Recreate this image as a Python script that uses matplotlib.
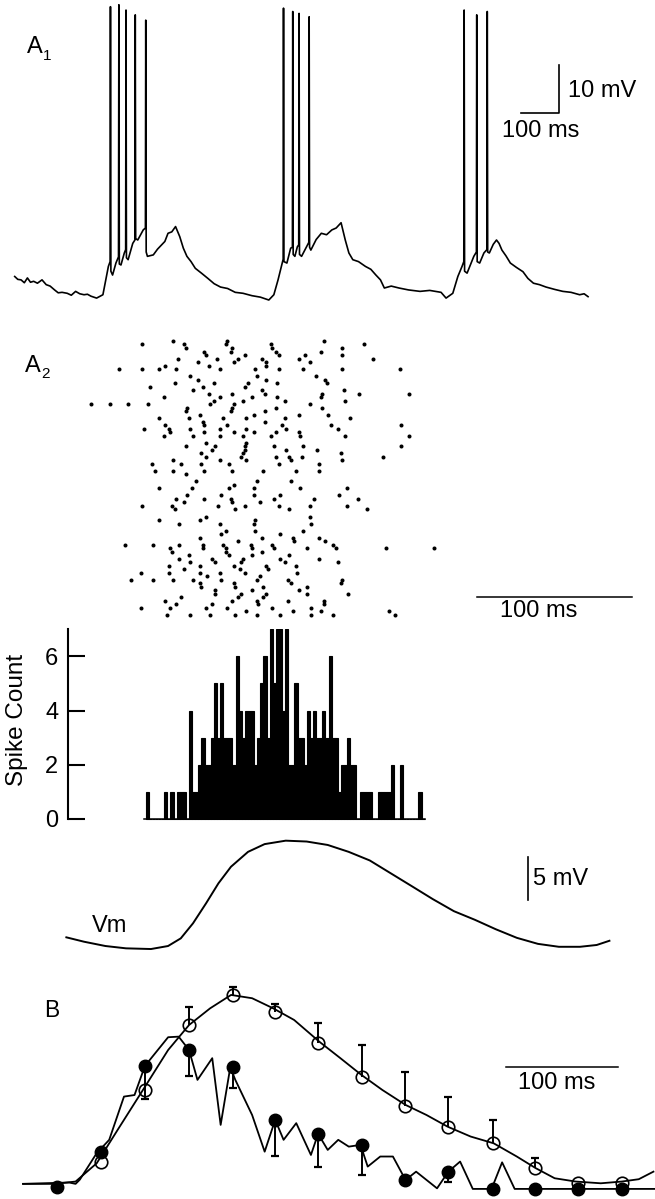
import numpy as np
import matplotlib
matplotlib.use('Agg')
import matplotlib.pyplot as plt

plt.rcParams['font.family'] = ['Liberation Sans', 'DejaVu Sans']

W, H = 655, 1199

# ---------------- A1: intracellular trace (ms, mV relative to trough) ----------------
a1_time_ms = [7.0, 15.0, 23.4, 32.0, 40.0, 48.0, 56.1, 66.0, 77.9, 88.8, 99.0, 110.6, 120.0,
              130.0, 143.4, 154.0, 165.2, 176.0, 187.0, 196.0, 205.0,
              219.7, 236.1, 243.7, 250.3, 254.8, 255.7, 256.8, 261.2, 269.9, 276.6, 277.6,
              278.7, 283.0, 291.7, 295.2, 296.1, 297.2, 301.6, 313.6, 319.2, 320.1, 321.2,
              326.6, 340.8, 346.5, 347.4, 348.5, 351.7, 367.0, 378.0, 388.8, 397.0, 405.2, 415.0,
              424.8, 435.7, 445.0, 454.3, 465.0, 476.1, 492.0, 508.8, 525.0, 541.6, 560.0, 579.8,
              600.0, 623.4, 645.0, 667.0, 680.1, 691.0, 699.8, 704.3,
              705.2, 706.3, 714.0, 723.8, 728.3, 729.2, 730.3, 734.7, 741.2, 744.7, 745.6,
              746.7, 752.1, 765.2, 770.9, 771.8, 772.9, 776.2, 790.0, 803.4, 817.0, 830.7, 842.0,
              854.7, 865.6, 875.0, 885.2, 900.0, 918.0, 932.0, 945.2, 957.0, 967.1, 985.0,
              1005.2, 1030.0, 1059.8, 1085.0, 1114.4, 1127.4, 1144.9, 1158.0,
              1168.9, 1173.5, 1174.4, 1175.5, 1182.0, 1199.5, 1206.2, 1207.1, 1208.2, 1214.7,
              1225.7, 1233.5, 1234.4, 1235.5, 1239.8, 1250.0, 1258.4, 1265.0, 1272.5, 1283.0,
              1294.4, 1310.0, 1327.1, 1340.0, 1354.4, 1370.0, 1387.1, 1410.0, 1430.7, 1452.0,
              1474.4, 1486.0, 1496.2]
a1_vm_mV = [4.9, 4.3, 4.2, 3.6, 4.6, 3.7, 3.9, 3.5, 4.2, 3.2, 2.9, 2.1, 1.5,
            1.6, 1.4, 1.0, 1.8, 1.3, 1.1, 1.2, 0.8,
            0.4, 1.1, 4.2, 7.0, 8.0, 61.1, 6.0, 5.2, 7.7, 9.0, 61.5,
            7.5, 7.3, 9.8, 10.5, 60.4, 8.8, 8.4, 11.8, 12.5, 59.4, 12.8,
            12.5, 14.6, 15.0, 58.3, 10.0, 9.1, 9.4, 10.6, 11.5, 12.2, 13.9, 14.2,
            15.3, 13.2, 10.8, 9.1, 8.0, 6.6, 5.6, 4.5, 3.4, 2.7, 2.4, 1.6,
            1.4, 0.9, 0.6, 0.0, 1.1, 4.2, 7.0, 8.5,
            60.8, 8.0, 7.7, 10.8, 11.0, 60.1, 9.5, 9.1, 11.1, 11.5, 59.7,
            9.5, 9.1, 11.1, 12.0, 59.0, 11.0, 10.4, 12.6, 13.9, 13.6, 14.6, 15.0,
            16.1, 12.5, 9.8, 8.4, 8.0, 7.0, 6.4, 5.2, 4.2, 2.5, 2.9,
            2.5, 2.1, 1.8, 2.0, 1.6, 0.4, 1.4, 4.9,
            7.0, 8.0, 60.4, 6.0, 5.6, 9.1, 10.0, 59.4, 8.0, 7.7,
            9.8, 10.5, 60.1, 10.0, 9.8, 11.6, 12.5, 11.8, 10.4, 9.2,
            7.7, 6.8, 5.9, 4.5, 3.5, 3.2, 2.7, 2.2, 1.8, 1.6,
            1.1, 1.3, 0.7]
a1_bar_ms = 100
a1_bar_mV = 10

# ---------------- A2: raster, spike times (ms) per trial ----------------
raster_spike_ms = [
    [55, 90, 152], [35, 62, 89, 118, 178], [63, 93, 119, 164], [75, 92, 121, 150],
    [76, 101, 123, 140, 164], [58, 83, 97, 112, 136, 184], [71, 94, 115, 143], [50, 78, 115],
    [20, 35, 46, 57, 85, 108, 123, 139, 164, 201], [], [66, 109, 147], [71, 115, 153],
    [56, 81, 103, 122, 154], [40, 74, 101], [68, 112, 165], [78, 93, 114, 151, 175, 207],
    [49, 85, 106, 122, 150], [81, 100, 127, 166], [2, 14, 26, 39, 79, 94, 143], [64, 93, 121, 151],
    [63, 92, 114], [72, 107, 136, 155], [46, 65, 87, 102, 127, 169], [74, 114],
    [50, 75, 90, 125, 157, 202], [36, 52, 66, 85, 102, 128, 161], [53, 75, 94, 107, 121, 136],
    [49, 68, 85, 100, 118, 137, 166, 207], [], [76, 102], [63, 82, 101, 120, 139, 202],
    [80, 101, 128, 148], [73, 100, 163], [76, 99, 121, 130, 138, 190], [55, 85, 102, 131, 164],
    [41, 60, 73, 91, 123, 149], [], [43, 55, 75, 93, 113, 134, 149], [63], [],
    [70, 109, 131], [94], [46, 67, 91, 107, 137, 167], [], [64, 86, 107, 124, 162],
    [57, 75, 92, 120, 146, 174], [62, 93, 111], [35, 54, 84, 101, 123, 143, 167],
    [56, 95, 130, 180], [], [76, 143], [46, 72, 108], [59, 85, 107, 144], [],
    [89, 108, 139], [86, 124], [72, 112, 132, 149], [97, 133, 153],
    [24, 42, 59, 74, 87, 105, 119, 158], [53, 74, 89, 106, 120, 141, 160, 192, 223],
    [54, 89, 112], [65, 91, 106, 130], [59, 80, 100, 124, 149], [66, 82, 99, 127, 161],
    [52, 72, 94, 115, 134], [62, 98, 116], [34, 52, 72, 85, 101, 135], [77, 111],
    [28, 42, 55, 68, 86, 109, 129, 164], [72, 94, 131, 163], [73, 95, 113, 141],
    [82, 106, 136], [82, 99, 115, 141, 168], [60, 97, 113], [50, 93, 109, 129, 152],
    [57, 80, 110, 152], [34, 53, 76, 90, 119, 144], [102, 132, 150, 194],
    [51, 66, 79, 95, 109, 124, 144, 158, 198],
]
raster_bar_ms = 100

# ---------------- Histogram: spike count per 2 ms bin ----------------
hist_bin_ms = 2
hist_counts = [1, 0, 0, 0, 0, 0, 1, 0, 1, 0,
               1, 1, 1, 0, 4, 1, 1, 2, 3, 2,
               2, 3, 5, 3, 5, 3, 3, 3, 2, 6,
               4, 3, 4, 4, 4, 2, 3, 5, 6, 3,
               7, 5, 7, 7, 4, 7, 2, 2, 5, 3,
               3, 2, 4, 3, 4, 3, 3, 4, 3, 6,
               3, 3, 1, 2, 2, 3, 2, 2, 0, 1,
               1, 1, 1, 0, 0, 1, 1, 1, 1, 2,
               0, 0, 2, 0, 0, 0, 0, 0, 1, 0]
hist_yticks = [0, 2, 4, 6]

# ---------------- Average Vm ----------------
vm_time_ms = [0, 11.4, 25.2, 38.5, 54.6, 65.6, 73.8, 81.7, 90.1, 98.1, 106.2, 117.2, 127.9,
              141.5, 155.0, 168.6, 182.1, 195.7, 209.3, 222.9, 236.4, 250.0, 263.5, 277.0,
              290.6, 304.2, 317.7, 331.3, 342.1, 350.3]
vm_mV = [1.36, 0.85, 0.35, 0.08, 0.0, 0.35, 1.24, 2.99, 5.31, 7.64, 9.57, 11.3, 12.2,
         12.6, 12.5, 12.1, 11.3, 10.3, 8.8, 7.3, 5.8, 4.4, 3.4, 2.3,
         1.3, 0.6, 0.26, 0.26, 0.47, 0.96]
vm_bar_mV = 5

# ---------------- B: normalised Vm (open) and firing (filled) ----------------
b_time_ms = [0, 39, 79, 118, 157, 195, 233, 272, 311, 349, 389, 427, 465, 504]
b_open = [np.nan, 0.141, 0.510, 0.845, 1.0, 0.911, 0.754, 0.579, 0.428, 0.321, 0.235, 0.107, 0.033, 0.033]
b_open_err = [0, 0, 0, 0.095, 0.043, 0.043, 0.100, 0.163, 0.177, 0.155, 0.121, 0.051, 0, 0]
b_filled = [0.009, 0.192, 0.634, 0.716, 0.627, 0.356, 0.284, 0.227, 0.046, 0.089, 0.0, 0.0, 0.0, 0.0]
b_filled_err = [0, 0, 0.172, 0.134, 0.108, 0.186, 0.169, 0.155, 0, 0.051, 0, 0, 0, 0]
b_vm_time_ms = [-30.3, -2.1, 16.6, 35.4, 54.1, 76.7, 99.2, 117.9, 136.7, 155.4, 174.2, 193.0,
                211.7, 234.2, 253.0, 271.7, 290.5, 311.2, 329.9, 348.7, 369.3, 389.9, 410.5,
                427.4, 444.3, 463.0, 485.5, 504.3, 519.4, 532.5]
b_vm = [0.026, 0.026, 0.038, 0.132, 0.304, 0.510, 0.716, 0.845, 0.931, 1.0, 0.983, 0.931,
        0.871, 0.759, 0.674, 0.588, 0.510, 0.433, 0.381, 0.321, 0.270, 0.235, 0.167,
        0.107, 0.055, 0.038, 0.029, 0.038, 0.050, 0.089]
b_rate_time_ms = [-30.3, 10.9, 16.6, 20.4, 35.4, 46.6, 59.8, 69.2, 78.5, 99.2, 108.6, 117.9,
                  125.4, 138.6, 146.1, 154.7, 159.2, 174.2, 185.4, 194.8, 202.3, 213.6, 226.7,
                  233.1, 241.7, 251.1, 260.5, 271.0, 277.4, 288.6, 299.9, 311.2, 320.6, 339.3,
                  349.4, 359.9, 371.2, 388.0, 397.4, 408.6, 534.3]
b_rate = [0.026, 0.033, 0.026, 0.048, 0.184, 0.253, 0.476, 0.484, 0.634, 0.782, 0.785, 0.716,
          0.562, 0.674, 0.330, 0.627, 0.562, 0.381, 0.192, 0.356, 0.253, 0.339, 0.175,
          0.284, 0.201, 0.253, 0.218, 0.227, 0.115, 0.167, 0.167, 0.046, 0.089, 0.003,
          0.089, 0.141, 0.0, 0.0, 0.137, 0.0, 0.0]
b_bar_ms = 100

FS = 17


def px_axes(x0, y0, x1, y1):
    ax = fig.add_axes([x0 / W, 1 - y1 / H, (x1 - x0) / W, (y1 - y0) / H])
    ax.set_axis_off()
    return ax


def ftext(x, y, s, **kw):
    fig.text(x / W, 1 - y / H, s, **kw)


fig = plt.figure(figsize=(W / 100, H / 100), dpi=100)
LW = 1.2

# ---- A1 ----
ax1 = px_axes(0, 0, W, 310)
ax1.set_xlim(-31.2, 1670.1)
ax1.set_ylim(-2.08, 62.5)
ax1.plot(a1_time_ms, a1_vm_mV, color='k', lw=LW)
bx, by = 1420.8, 38.96
ax1.plot([bx - a1_bar_ms, bx, bx], [by, by, by + a1_bar_mV], color='k', lw=1.2)
ax1.text(bx + 23, by + 3.3, '10 mV', fontsize=FS, ha='left', va='baseline')
ax1.text(bx - 47, by - 5.0, '100 ms', fontsize=FS, ha='center', va='baseline')
ftext(27, 53, 'A', fontsize=FS, ha='left', va='baseline')
ftext(43, 60, '1', fontsize=11, ha='left', va='baseline')

# ---- A2 raster ----
ax2 = px_axes(60, 330, W, 625)
ax2.set_xlim(-18.06, 365.8)
ax2.set_ylim(80.9, -3.13)
rx = [t for trial in raster_spike_ms for t in trial]
ry = [k for k, trial in enumerate(raster_spike_ms) for _ in trial]
ax2.plot(rx, ry, 'o', color='k', ms=2.9, mec='none')
ax2.plot([251.0, 251.0 + raster_bar_ms], [72.9, 72.9], color='k', lw=1.1)
ax2.text(251.0 + raster_bar_ms / 2 - 10, 78.6, '100 ms', fontsize=FS, ha='center', va='baseline')
ftext(25, 372, 'A', fontsize=FS, ha='left', va='baseline')
ftext(41, 378, '2', fontsize=11, ha='left', va='baseline')

# ---- Histogram ----
axh = fig.add_axes([68 / W, 1 - 830 / H, (W - 68) / W, (830 - 629) / H])
axh.set_xlim(-50.1, 328.6)
axh.set_ylim(-0.406, 7.01)
edges = np.arange(len(hist_counts)) * hist_bin_ms
axh.bar(edges, hist_counts, width=hist_bin_ms, align='edge', color='k', edgecolor='k', linewidth=0.8)
axh.plot([edges[0] - 1, edges[-1] + hist_bin_ms], [0, 0], color='k', lw=1.1)
for s in ['top', 'right', 'bottom']:
    axh.spines[s].set_visible(False)
axh.spines['left'].set_bounds(0, 7)
axh.spines['left'].set_linewidth(1.5)
axh.set_xticks([])
axh.set_yticks(hist_yticks)
axh.tick_params(axis='y', direction='in', length=12, width=1.5, pad=7, labelsize=FS)
axh.patch.set_alpha(0)
ftext(17, 720, 'Spike Count', fontsize=17.5, rotation=90, ha='center', va='center')

# ---- Vm ----
axv = px_axes(0, 830, W, 975)
axv.set_xlim(-42.8, 379.7)
axv.set_ylim(-3.02, 13.84)
axv.plot(vm_time_ms, vm_mV, color='k', lw=1.4)
axv.plot([297.8, 297.8], [5.7, 5.7 + vm_bar_mV], color='k', lw=1.2)
axv.text(300.9, 8.2, '5 mV', fontsize=FS, ha='left', va='center')
ftext(92, 932, 'Vm', fontsize=FS, ha='left', va='baseline')

# ---- B ----
axb = px_axes(0, 980, W, H)
axb.set_xlim(-50.9, 533.9)
axb.set_ylim(-0.052, 1.077)
axb.plot(b_vm_time_ms, b_vm, color='k', lw=1.3)
axb.plot(b_rate_time_ms, b_rate, color='k', lw=1.3)
bt = np.array(b_time_ms, dtype=float)
bo = np.array(b_open, dtype=float)
boe = np.array(b_open_err, dtype=float)
bf = np.array(b_filled, dtype=float)
bfe = np.array(b_filled_err, dtype=float)
m = boe > 0
axb.vlines(bt[m], bo[m], bo[m] + boe[m], color='k', lw=1.4)
axb.plot(bt[m], bo[m] + boe[m], '_', color='k', ms=5.5, mew=1.6)
m2 = bfe > 0
axb.vlines(bt[m2], bf[m2] - bfe[m2], bf[m2], color='k', lw=1.4)
axb.plot(bt[m2], bf[m2] - bfe[m2], '_', color='k', ms=5.5, mew=1.6)
axb.plot(bt, bf, 'o', color='k', ms=9, mec='k')
axb.plot(bt, bo, 'o', mfc='none', mec='k', ms=9, mew=1.2)
axb.plot([400.9, 400.9 + b_bar_ms], [0.63, 0.63], color='k', lw=1.1)
axb.text(400.9 + b_bar_ms / 2 - 5, 0.515, '100 ms', fontsize=FS, ha='center', va='baseline')
ftext(44, 1017, 'B', fontsize=16.5, ha='left', va='baseline')

fig.savefig('out.png', dpi=100)
